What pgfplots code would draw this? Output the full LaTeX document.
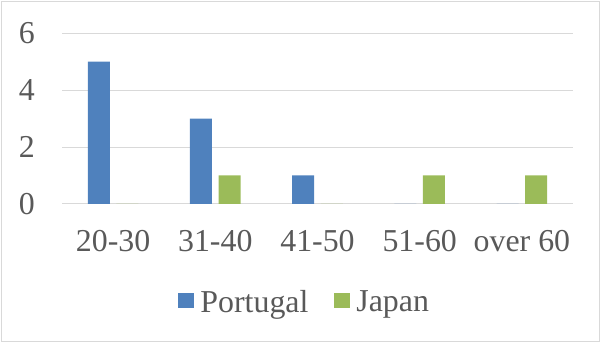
\documentclass[border=0pt]{standalone}
\usepackage{fontspec}
\setmainfont{Liberation Serif}
\usepackage{pgfplots}
\pgfplotsset{compat=1.18}
\definecolor{pblue}{HTML}{4F81BD}
\definecolor{jgreen}{HTML}{9BBB59}
\definecolor{txt}{HTML}{595959}
\definecolor{gridc}{HTML}{D9D9D9}
\begin{document}
\begin{tikzpicture}
\path[use as bounding box] (0bp,0bp) rectangle (601bp,343bp);
\draw[gridc, line width=1bp] (1.5bp,1.5bp) rectangle (599.5bp,341.5bp);
\begin{axis}[
  at={(62bp,139bp)}, anchor=south west,
  scale only axis, width=511bp, height=171bp,
  ymin=0, ymax=6, xmin=-0.5, xmax=4.5,
  ytick={0,2,4,6}, xtick={0,1,2,3,4},
  xticklabels={20-30,31-40,41-50,51-60,over 60},
  axis line style={draw=none},
  major tick length=0pt,
  ymajorgrids, grid style={gridc, line width=1bp},
  /pgf/number format/assume math mode=true,
  tick label style={font=\fontsize{32}{36}\selectfont, text=txt, inner sep=0pt},
  yticklabel style={anchor=east, xshift=-27bp},
  xticklabel style={anchor=north, yshift=-26bp},
  legend style={at={(0.475,-0.573)}, anchor=center, draw=none, fill=none,
    font=\fontsize{32}{36}\selectfont, text=txt,
    legend columns=2,
    /tikz/every odd column/.append style={column sep=4bp},
    /tikz/every even column/.append style={column sep=24bp},
    legend cell align=left},
  legend image code/.code={\fill[#1] (0bp,-6.5bp) rectangle (16bp,9bp);},
]
\addplot[ybar, bar width=22bp, bar shift=-14.3bp, fill=pblue, draw=none]
  coordinates {(0,5) (1,3) (2,1) (3,0) (4,0)};
\addplot[ybar, bar width=22bp, bar shift=14.3bp, fill=jgreen, draw=none]
  coordinates {(0,0) (1,1) (2,0) (3,1) (4,1)};
\legend{Portugal,Japan}
\end{axis}
\end{tikzpicture}
\end{document}
